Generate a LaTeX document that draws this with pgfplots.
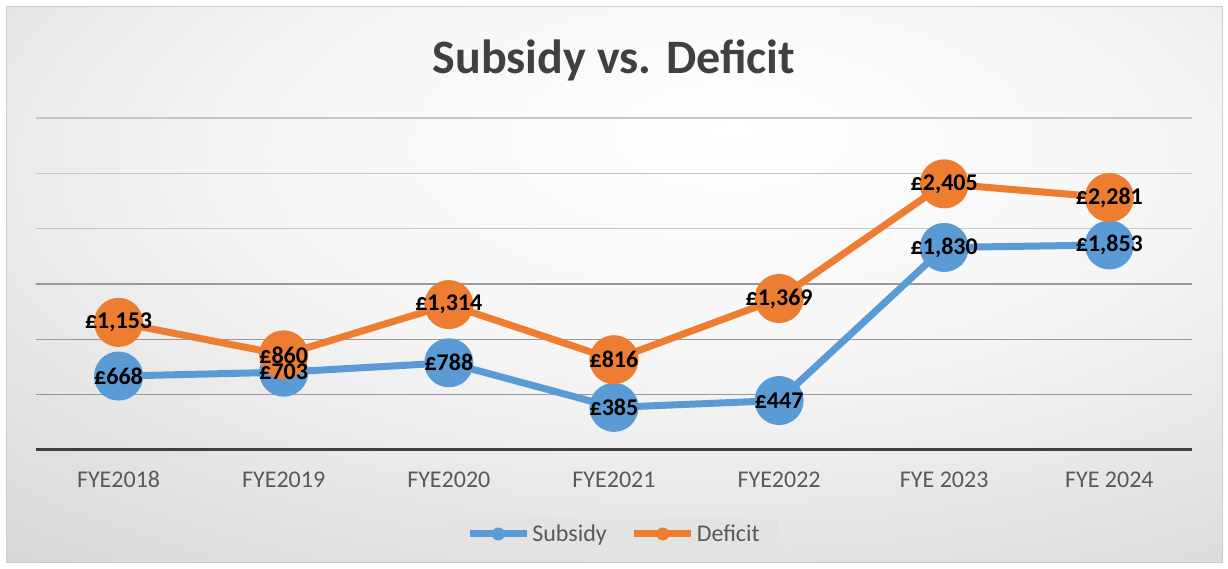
\documentclass[border=0pt]{standalone}
\usepackage{fontspec}
\setmainfont{Carlito}
\usepackage{pgfplots}
\pgfplotsset{compat=1.18}

\definecolor{subblue}{HTML}{5B9BD5}
\definecolor{deforange}{HTML}{ED7D31}
\definecolor{ticktext}{HTML}{595959}
\definecolor{titletext}{HTML}{404040}
\definecolor{axisdark}{HTML}{404040}

% Excel-like soft radial background
\pgfdeclareradialshading{chartbg}{\pgfpoint{5bp}{14bp}}{%
  color(0bp)=(white); color(20bp)=(white!96!black); color(45bp)=(white!84!black);
  color(68bp)=(white!77!black); color(120bp)=(white!74!black)}

\begin{document}
\begin{tikzpicture}
% page and chart frame (axis origin sits at the plot area's lower left corner)
\fill[white] (-36pt,-119pt) rectangle (1192pt,450pt);
\shade[shading=chartbg, draw=gray!40, line width=1pt] (-30pt,-113pt) rectangle (1186pt,443pt);

\begin{axis}[
  scale only axis,
  width=1156pt, height=332pt,
  xmin=-0.5, xmax=6.5,
  ymin=0, ymax=3000,
  clip=false,
  axis x line*=bottom,
  axis y line*=left,
  y axis line style={draw=none},
  x axis line style={draw=axisdark, line width=3pt, -},
  major tick length=0pt,
  xtick={0,...,6},
  xticklabels={FYE2018,FYE2019,FYE2020,FYE2021,FYE2022,FYE 2023,FYE 2024},
  xticklabel style={font=\fontsize{24}{27}\selectfont, text=ticktext, yshift=-18pt},
  ytick={2000,2500,3000},
  yticklabels={},
  ymajorgrids,
  grid style={draw=gray!45, line width=1.5pt},
  extra y ticks={500,1000,1500},
  extra y tick labels={},
  extra y tick style={grid style={draw=gray!80, line width=1.5pt}},
  title={Subsidy vs. Deficit},
  title style={font=\fontsize{48}{54}\selectfont\bfseries, text=titletext, at={(0.5,1.155)}, anchor=center},
  legend columns=2,
  legend style={at={(0.5,-0.253)}, anchor=center, draw=none, fill=white!89!black,
    font=\fontsize{24}{27}\selectfont, text=ticktext, inner xsep=16pt, inner ysep=4pt,
    /tikz/every even column/.append style={column sep=22pt}},
  legend image code/.code={%
    \draw[#1, mark=none] (0pt,0pt) -- (57pt,0pt);
    \fill[#1, draw=none] (28.5pt,0pt) circle (6.5pt);},
]
\addplot[subblue, line width=7pt, mark=*, mark size=21pt, mark options={draw=none, fill=subblue}]
  coordinates {(0,668) (1,703) (2,788) (3,385) (4,447) (5,1830) (6,1853)};
\addplot[deforange, line width=7pt, mark=*, mark size=21pt, mark options={draw=none, fill=deforange}]
  coordinates {(0,1153) (1,860) (2,1314) (3,816) (4,1369) (5,2405) (6,2281)};
\legend{Subsidy,Deficit}

% data labels on top of all markers
\addplot[draw=none, mark=none, forget plot, point meta=y,
  nodes near coords={£\pgfmathprintnumber[assume math mode=true, 1000 sep={,}]{\pgfplotspointmeta}},
  every node near coord/.append style={anchor=center, font=\fontsize{24}{27}\selectfont\bfseries, text=black}]
  coordinates {(0,668) (1,703) (2,788) (3,385) (4,447) (5,1830) (6,1853)};
\addplot[draw=none, mark=none, forget plot, point meta=y,
  nodes near coords={£\pgfmathprintnumber[assume math mode=true, 1000 sep={,}]{\pgfplotspointmeta}},
  every node near coord/.append style={anchor=center, font=\fontsize{24}{27}\selectfont\bfseries, text=black}]
  coordinates {(0,1153) (1,860) (2,1314) (3,816) (4,1369) (5,2405) (6,2281)};
\end{axis}
\end{tikzpicture}
\end{document}
